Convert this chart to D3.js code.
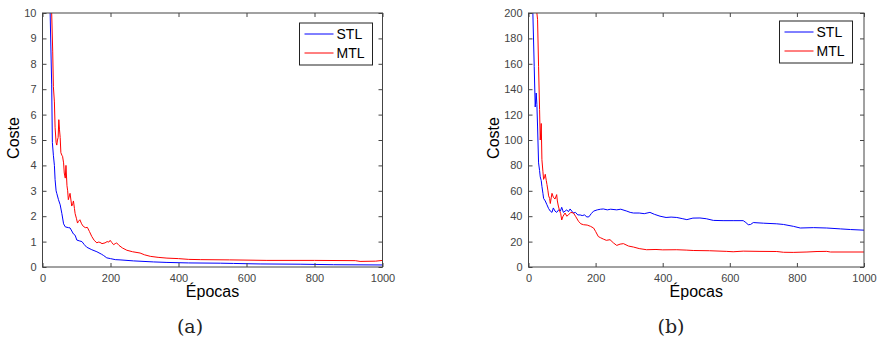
<!DOCTYPE html>
<html>
<head>
<meta charset="utf-8">
<script src="https://cdn.jsdelivr.net/npm/d3@7"></script>
<style>
  body { margin: 0; background: #fff; }
  svg { display: block; }
</style>
</head>
<body>
<div id="chart"></div>
<script>
// panel (a) data: [epoch, cost]
let stlA = [[18,14],[22.5,10],[24.5,8.7],[27,7.2],[29,4.9],[32,4.4],[35,4],[37,3.44],[40,3],[42,2.9],[47,2.65],[52,2.45],[57,2.1],[62,1.7],[67,1.58],[76,1.55],[81,1.54],[91,1.3],[96,1.25],[101,1.06],[108,1.03],[116,1.0],[123,0.88],[130,0.78],[145,0.68],[160,0.6],[174,0.5],[180,0.45],[189,0.36],[200,0.33],[214,0.29],[228,0.28],[268,0.24],[326,0.2],[366,0.18],[430,0.16],[523,0.15],[562,0.14],[640,0.12],[760,0.11],[856,0.09],[1000,0.08]];
let mtlA = [[24,14],[27,10],[30,8.5],[32,7.1],[35,6.5],[37,5.5],[40,4.9],[42,4.8],[44,5.0],[46,5.1],[48,5.8],[50,5.4],[52,5.1],[54,4.5],[57,4.4],[59,4.36],[62,4.1],[64,3.7],[67,3.5],[69,4.0],[72,3.2],[74,3.0],[76,2.65],[79,2.8],[81,2.9],[84,2.6],[86,2.4],[89,2.5],[91,2.6],[94,2.3],[96,2.1],[100,1.9],[103,1.73],[106,1.8],[110,1.86],[115,1.7],[120,1.6],[126,1.55],[132,1.56],[138,1.4],[145,1.2],[152,1.05],[160,0.95],[164,0.98],[169,0.97],[175,0.92],[184,0.95],[190,1.0],[195,0.98],[199,1.05],[204,0.96],[209,0.88],[214,0.92],[218,0.95],[225,0.85],[235,0.75],[248,0.66],[265,0.6],[287,0.55],[300,0.48],[317,0.42],[340,0.38],[366,0.35],[400,0.33],[430,0.3],[464,0.29],[550,0.28],[660,0.26],[800,0.26],[920,0.25],[934,0.22],[980,0.23],[1000,0.26]];

// panel (b) data: [epoch, cost]
let stlB = [[10,260],[13,200],[17,158],[20,126],[23,137],[25,128],[27,111],[30,82],[33,76],[35,71],[38,68],[40,63.5],[43,58],[45,54],[50,52],[55,49],[60,46],[65,44],[70,43],[74,46.5],[79,44],[84,43],[90,45],[95,44],[99,47],[104,43],[109,44],[114,45],[119,43.5],[124,45.7],[129,44],[134,42.5],[140,43],[147,41],[154,41],[160,40.5],[167,41],[174,39.4],[180,39.5],[187,42],[194,44],[205,45],[215,45.5],[223,45.7],[235,45],[245,45.5],[263,45],[275,45.5],[293,44],[303,43],[313,42.5],[330,42.5],[345,42],[362,43],[375,41.5],[392,40],[410,39],[425,39.3],[442,39],[460,38],[472,37.3],[490,38.5],[511,38.6],[530,38],[551,36.7],[580,36.5],[610,36.5],[640,36.5],[648,35],[655,33.3],[662,33.5],[670,35],[700,34.5],[740,34],[760,33.5],[790,32],[810,30.7],[850,31],[889,30.7],[930,30],[960,29.5],[1000,29]];
let mtlB = [[22,260],[25,200],[27,195],[30,158],[33,124],[35,100],[38,113],[40,84.5],[43,75],[45,69],[48,71],[50,73],[53,68],[55,65],[58,60],[60,56],[63,54],[65,50],[68,55],[70,58],[74,55],[79,53.5],[84,57],[86,52],[89,48],[93,44],[96,42],[99,37],[103,40],[109,42.5],[114,40],[119,41],[126,43],[134,42.5],[140,40],[149,36],[156,34],[164,33.3],[175,33],[185,32],[194,30.7],[200,28],[208,24],[215,23],[223,22],[232,21],[243,21.5],[253,19],[263,17],[273,18],[283,18.4],[298,16.5],[313,15.7],[330,14.5],[352,13.6],[380,13.8],[400,13.5],[442,13.6],[470,13.3],[491,13],[540,12.8],[591,12.3],[610,12],[640,12.5],[690,12.3],[740,12.2],[760,11.6],[789,11.5],[830,11.8],[860,12.2],[889,12.3],[900,11.8],[1000,11.8]];

let xTicks = [0, 200, 400, 600, 800, 1000];
let yTicksA = [0, 1, 2, 3, 4, 5, 6, 7, 8, 9, 10];
let yTicksB = [0, 20, 40, 60, 80, 100, 120, 140, 160, 180, 200];
let seriesNames = ["STL", "MTL"];
let seriesColors = ["blue", "red"];

let svg = d3.select("#chart").append("svg")
  .attr("width", 879)
  .attr("height", 341);

function drawPanel(opts) {
  let g = svg.append("g").attr("transform", `translate(${opts.left}, 13)`);
  let width = opts.width;
  let height = 254;

  let x = d3.scaleLinear().domain([0, 1000]).range([0, width]);
  let y = d3.scaleLinear().domain([0, opts.yMax]).range([height, 0]);

  g.append("clipPath").attr("id", "clip" + opts.id)
    .append("rect").attr("width", width).attr("height", height);

  let line = d3.line().x(d => x(d[0])).y(d => y(d[1]));

  let lines = g.append("g").attr("clip-path", `url(#clip${opts.id})`);
  [opts.stl, opts.mtl].forEach((data, i) => {
    lines.append("path")
      .datum(data)
      .attr("d", line)
      .attr("fill", "none")
      .attr("stroke", seriesColors[i])
      .attr("stroke-width", 1);
  });

  // axes with inward ticks on all four sides
  let axisStyle = sel => {
    sel.select(".domain").remove();
    sel.selectAll("line").attr("stroke", "#444");
    sel.selectAll("text").attr("fill", "#444")
      .attr("font-family", "Liberation Sans, Arial, sans-serif")
      .attr("font-size", "11px");
  };

  g.append("g").attr("transform", `translate(0, ${height})`)
    .call(d3.axisBottom(x).tickValues(xTicks).tickSize(-4).tickPadding(7).tickFormat(d3.format("d")))
    .call(axisStyle);
  g.append("g")
    .call(d3.axisTop(x).tickValues(xTicks).tickSize(-4).tickFormat(""))
    .call(axisStyle);
  g.append("g")
    .call(d3.axisLeft(y).tickValues(opts.yTicks).tickSize(-4).tickPadding(6))
    .call(axisStyle);
  g.append("g").attr("transform", `translate(${width}, 0)`)
    .call(d3.axisRight(y).tickValues(opts.yTicks).tickSize(-4).tickFormat(""))
    .call(axisStyle);

  g.append("rect")
    .attr("width", width).attr("height", height)
    .attr("fill", "none").attr("stroke", "#444").attr("stroke-width", 1);

  // legend
  let lg = g.append("g").attr("transform", `translate(${opts.legX}, ${opts.legY})`);
  lg.append("rect").attr("width", 73).attr("height", 42)
    .attr("fill", "white").attr("stroke", "#222").attr("stroke-width", 1);
  seriesNames.forEach((name, i) => {
    lg.append("line")
      .attr("x1", 5).attr("x2", 34)
      .attr("y1", 11 + i * 19).attr("y2", 11 + i * 19)
      .attr("stroke", seriesColors[i]).attr("stroke-width", 1);
    lg.append("text")
      .attr("x", 37).attr("y", 16 + i * 19)
      .attr("font-family", "Liberation Sans, Arial, sans-serif")
      .attr("font-size", "14px")
      .attr("fill", "black")
      .text(name);
  });

  g.append("text")
    .attr("x", width / 2).attr("y", 284)
    .attr("text-anchor", "middle")
    .attr("font-family", "Liberation Sans, Arial, sans-serif")
    .attr("font-size", "16px")
    .attr("fill", "black")
    .text("Épocas");

  g.append("text")
    .attr("transform", `translate(${opts.yLabelX}, ${height / 2 - 2}) rotate(-90)`)
    .attr("text-anchor", "middle")
    .attr("font-family", "Liberation Sans, Arial, sans-serif")
    .attr("font-size", "16px")
    .attr("fill", "black")
    .text("Coste");

  svg.append("text")
    .attr("x", opts.capX).attr("y", 333)
    .attr("text-anchor", "middle")
    .attr("font-family", "DejaVu Serif, Liberation Serif, serif")
    .attr("font-size", "19px")
    .attr("fill", "#222")
    .text(opts.caption);
}

drawPanel({ id: "a", left: 42.5, width: 340, yMax: 10, yTicks: yTicksA,
  stl: stlA, mtl: mtlA, legX: 257, legY: 10, yLabelX: -24, capX: 190, caption: "(a)" });
drawPanel({ id: "b", left: 528.5, width: 335.5, yMax: 200, yTicks: yTicksB,
  stl: stlB, mtl: mtlB, legX: 251, legY: 8, yLabelX: -30, capX: 671, caption: "(b)" });
</script>
</body>
</html>
